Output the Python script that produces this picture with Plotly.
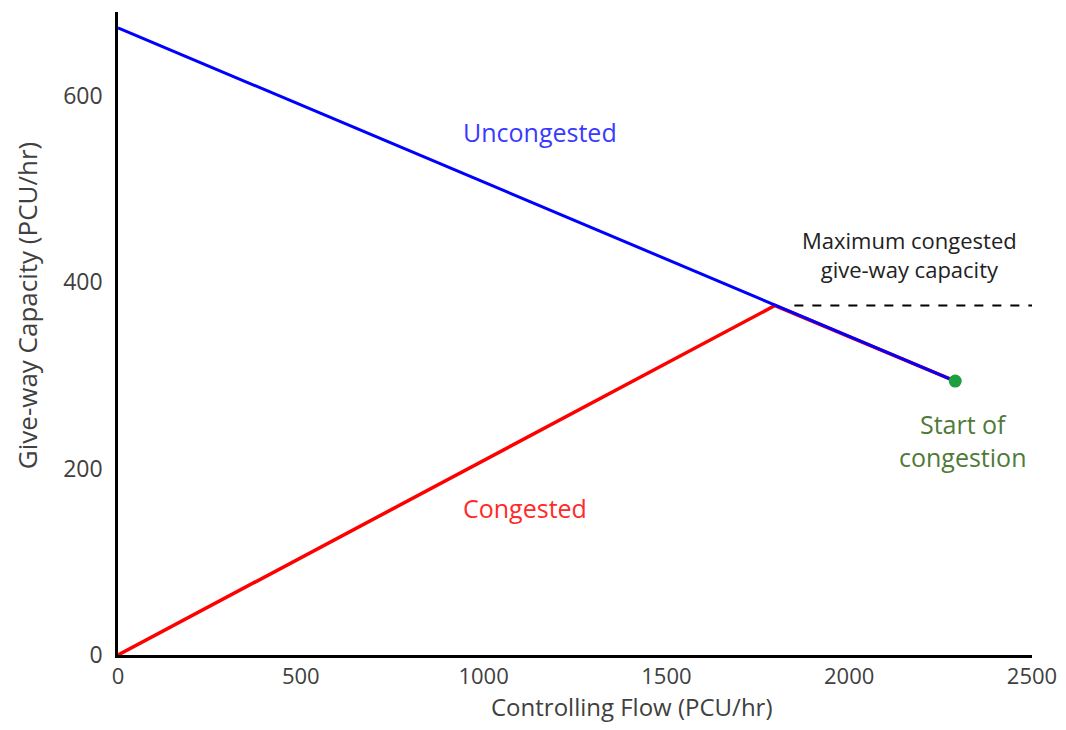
import plotly.graph_objects as go

# Data
uncongested_x = [0, 2290]
uncongested_y = [673, 294]
congested_x = [0, 1797, 2290]
congested_y = [0, 375, 294]
max_cap_x = [1850, 2500]
max_cap_y = [375, 375]
start_x = [2290]
start_y = [294]

font_family = "Open Sans, Noto Sans, Liberation Sans, sans-serif"
axis_grey = "#404040"

fig = go.Figure()

fig.add_trace(go.Scatter(x=max_cap_x, y=max_cap_y, mode="lines",
                         line=dict(color="black", width=2, dash="dash")))
fig.add_trace(go.Scatter(x=congested_x, y=congested_y, mode="lines",
                         line=dict(color="#ff0000", width=3.5)))
fig.add_trace(go.Scatter(x=uncongested_x, y=uncongested_y, mode="lines",
                         line=dict(color="#0000ff", width=3)))
fig.add_trace(go.Scatter(x=start_x, y=start_y, mode="markers",
                         marker=dict(color="#1e9e3e", size=13)))

# Labels on the chart
fig.add_annotation(x=1154, y=561, text="Uncongested", showarrow=False,
                   font=dict(color="#3a3aff", size=25))
fig.add_annotation(x=1113, y=158, text="Congested", showarrow=False,
                   font=dict(color="#ff2a2a", size=25))
fig.add_annotation(x=2166, y=430, text="Maximum congested<br>give-way capacity",
                   showarrow=False, font=dict(color="#222222", size=22))
fig.add_annotation(x=2311, y=230, text="Start of<br>congestion", showarrow=False,
                   font=dict(color="#4f7a38", size=25))

# Axis titles placed as annotations to match their offset positions
fig.add_annotation(xref="paper", yref="paper", x=0.562, y=-0.0801,
                   xanchor="center", yanchor="middle",
                   text="Controlling Flow (PCU/hr)", showarrow=False,
                   font=dict(size=24, color=axis_grey))
fig.add_annotation(xref="paper", yref="paper", x=-0.0996, y=0.544,
                   xanchor="center", yanchor="middle",
                   text="Give-way Capacity (PCU/hr)", showarrow=False,
                   textangle=-90, font=dict(size=26, color=axis_grey))

fig.update_xaxes(range=[0, 2500], tickvals=[0, 500, 1000, 1500, 2000, 2500],
                 showgrid=False, zeroline=False, showline=True, linecolor="black",
                 linewidth=2.5, ticks="", ticklabelstandoff=0,
                 ticklabeloverflow="allow",
                 tickfont=dict(size=22, color=axis_grey))
fig.update_yaxes(range=[0, 690], tickvals=[0, 200, 400, 600],
                 showgrid=False, zeroline=False, showline=True, linecolor="black",
                 linewidth=2.5, ticks="", ticklabelstandoff=8,
                 tickfont=dict(size=23, color=axis_grey))

fig.update_layout(width=1058, height=714, showlegend=False,
                  plot_bgcolor="white", paper_bgcolor="white",
                  font=dict(family=font_family),
                  margin=dict(l=110, r=34, t=4, b=67, autoexpand=False))

fig.write_html("out.html")
